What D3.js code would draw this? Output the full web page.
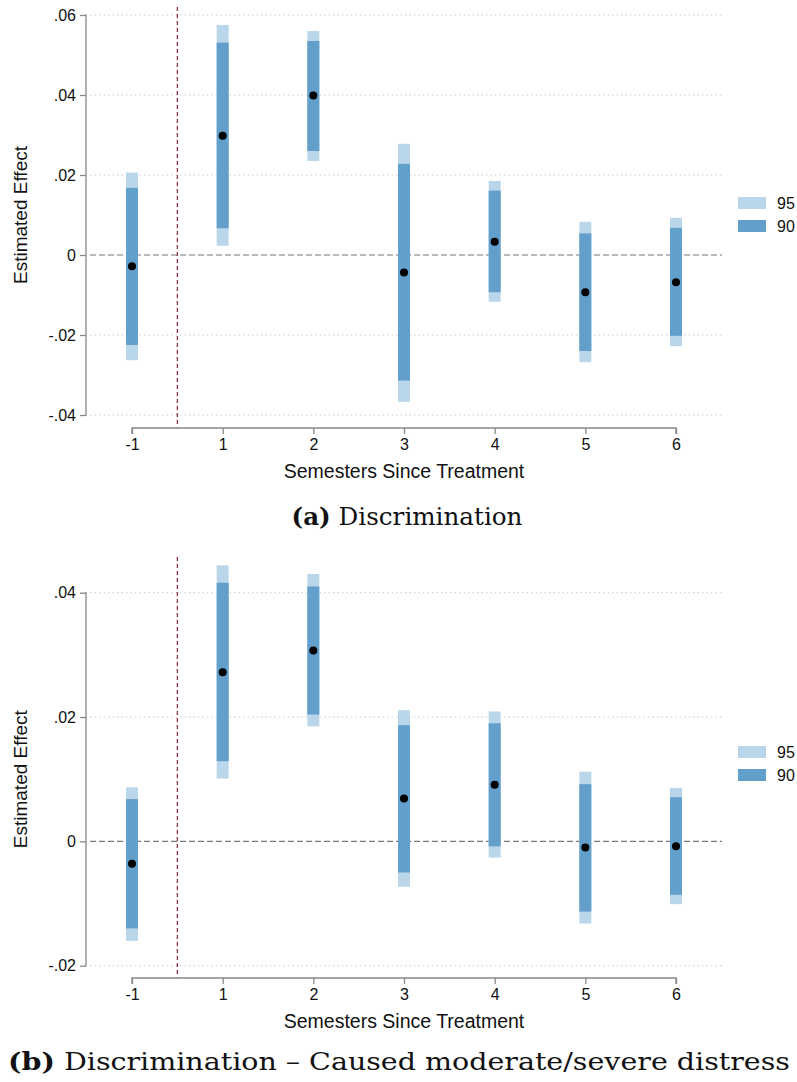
<!DOCTYPE html>
<html>
<head>
<meta charset="utf-8">
<script src="https://cdn.jsdelivr.net/npm/d3@7"></script>
<style>
  body { margin: 0; background: #fff; }
  svg { display: block; }
</style>
</head>
<body>
<div id="chart"></div>
<script>
// event-study estimates, semesters since treatment
var semesters = ["-1", "1", "2", "3", "4", "5", "6"];

// (a) Discrimination
var discPoint = [-0.0028, 0.0298, 0.0399, -0.0044, 0.0033, -0.0093, -0.0068];
var disc90Lo  = [-0.0225, 0.0067, 0.0260, -0.0314, -0.0093, -0.0240, -0.0202];
var disc90Hi  = [0.0168, 0.0531, 0.0535, 0.0228, 0.0161, 0.0054, 0.0068];
var disc95Lo  = [-0.0263, 0.0023, 0.0235, -0.0367, -0.0117, -0.0268, -0.0228];
var disc95Hi  = [0.0206, 0.0575, 0.0560, 0.0278, 0.0185, 0.0083, 0.0093];
var discTicks = [-0.04, -0.02, 0, 0.02, 0.04, 0.06];

// (b) Discrimination - caused moderate/severe distress
var distPoint = [-0.0036, 0.0272, 0.0307, 0.0069, 0.0091, -0.0010, -0.0008];
var dist90Lo  = [-0.0140, 0.0129, 0.0204, -0.0050, -0.0008, -0.0113, -0.0086];
var dist90Hi  = [0.0068, 0.0416, 0.0410, 0.0187, 0.0190, 0.0092, 0.0071];
var dist95Lo  = [-0.0160, 0.0101, 0.0185, -0.0073, -0.0026, -0.0132, -0.0101];
var dist95Hi  = [0.0087, 0.0444, 0.0430, 0.0211, 0.0209, 0.0112, 0.0086];
var distTicks = [-0.02, 0, 0.02, 0.04];

var legendLabels = ["95", "90"];
var c95 = "#bad6ea", c90 = "#629fcb";

var W = 797, H = 1082;
var sans = "Liberation Sans, Arial, sans-serif";
var svg = d3.select("#chart").append("svg").attr("width", W).attr("height", H);

var x = d3.scalePoint().domain(semesters).range([132, 676]);
var step = x.step();

// stata style labels: .02, -.04, 0
function fmt(d) {
    if (d === 0) return "0";
    return d3.format(".2f")(d).replace("\u2212", "-").replace("0.", ".");
}

function drawPanel(p) {
    var g = svg.append("g");
    var y = d3.scaleLinear().domain(p.domain).range(p.range);

    // grid lines (dotted)
    g.selectAll("line.grid").data(p.ticks.filter(function(t){ return t !== 0; }))
        .enter().append("line")
        .attr("x1", 90).attr("x2", 722)
        .attr("y1", function(d){ return y(d); }).attr("y2", function(d){ return y(d); })
        .style("stroke", "#cccccc").style("stroke-width", 1.1)
        .style("stroke-dasharray", "1.5,3");

    // zero reference
    g.append("line")
        .attr("x1", 90).attr("x2", 722)
        .attr("y1", y(0)).attr("y2", y(0))
        .style("stroke", "#777").style("stroke-width", 1.1)
        .style("stroke-dasharray", "6,3");

    // treatment line
    g.append("line")
        .attr("x1", x("-1") + step / 2).attr("x2", x("-1") + step / 2)
        .attr("y1", p.redTop).attr("y2", p.axisY)
        .style("stroke", "#8b2232").style("stroke-width", 1.2)
        .style("stroke-dasharray", "4,3");

    // y axis
    var yAxis = d3.axisLeft(y).tickValues(p.ticks).tickFormat(fmt).tickSize(6).tickPadding(4);
    var ya = g.append("g").attr("transform", "translate(86,0)").call(yAxis);
    ya.select(".domain").style("stroke", "#888").style("stroke-width", 1.3)
        .attr("d", "M-0.5," + y(p.domain[0]) + "H0V" + y(p.domain[1]) + "H-0.5");
    ya.selectAll(".tick line").style("stroke", "#888").style("stroke-width", 1.3);
    ya.selectAll(".tick text").style("font-family", sans)
        .style("font-size", "16px").style("fill", "#111");

    // x axis
    var xAxis = d3.axisBottom(x).tickSize(6).tickPadding(5);
    var xa = g.append("g").attr("transform", "translate(0," + p.axisY + ")").call(xAxis);
    xa.select(".domain").style("stroke", "#888").style("stroke-width", 1.3)
        .attr("d", "M" + x("-1") + ",6V0H" + x("6") + "V6");
    xa.selectAll(".tick line").style("stroke", "#888").style("stroke-width", 1.3);
    xa.selectAll(".tick text").style("font-family", sans)
        .style("font-size", "16px").style("fill", "#111");

    // 95% bars
    g.selectAll("rect.b95").data(semesters).enter().append("rect")
        .attr("x", function(d){ return x(d) - 6; })
        .attr("width", 12)
        .attr("y", function(d, i){ return y(p.hi95[i]); })
        .attr("height", function(d, i){ return y(p.lo95[i]) - y(p.hi95[i]); })
        .style("fill", c95);

    // 90% bars
    g.selectAll("rect.b90").data(semesters).enter().append("rect")
        .attr("x", function(d){ return x(d) - 6; })
        .attr("width", 12)
        .attr("y", function(d, i){ return y(p.hi90[i]); })
        .attr("height", function(d, i){ return y(p.lo90[i]) - y(p.hi90[i]); })
        .style("fill", c90);

    // point estimates
    g.selectAll("circle.pt").data(semesters).enter().append("circle")
        .attr("cx", function(d){ return x(d); })
        .attr("cy", function(d, i){ return y(p.point[i]); })
        .attr("r", 4)
        .style("fill", "#000");

    // axis titles
    var yMid = (p.range[0] + p.range[1]) / 2;
    g.append("text")
        .attr("transform", "translate(27," + yMid + ") rotate(-90)")
        .attr("text-anchor", "middle")
        .style("font-family", sans).style("font-size", "19px")
        .style("fill", "#111")
        .text("Estimated Effect");

    g.append("text")
        .attr("x", (x("-1") + x("6")) / 2).attr("y", p.axisY + 50)
        .attr("text-anchor", "middle")
        .style("font-family", sans).style("font-size", "19.5px")
        .style("fill", "#111")
        .text("Semesters Since Treatment");

    // legend
    var leg = g.selectAll("g.leg").data(legendLabels).enter().append("g")
        .attr("transform", function(d, i){ return "translate(738," + (p.legendY + i * 23) + ")"; });
    leg.append("rect").attr("width", 28).attr("height", 12)
        .style("fill", function(d, i){ return i === 0 ? c95 : c90; });
    leg.append("text").attr("x", 39).attr("y", 11.5)
        .style("font-family", sans).style("font-size", "16px")
        .style("fill", "#111")
        .text(function(d){ return d; });

    // caption
    var cap = g.append("text")
        .attr("x", p.capX).attr("y", p.capY)
        .attr("text-anchor", "middle")
        .attr("textLength", p.capWidth)
        .attr("lengthAdjust", "spacingAndGlyphs")
        .style("font-family", "DejaVu Serif, Liberation Serif, serif")
        .style("font-size", "23.5px").style("fill", "#111");
    cap.append("tspan").style("font-weight", "bold").text(p.capTag);
    cap.append("tspan").text(" " + p.capText);
}

drawPanel({
    domain: [-0.04, 0.06], range: [415, 15], ticks: discTicks,
    axisY: 428, redTop: 7, legendY: 197,
    point: discPoint, lo90: disc90Lo, hi90: disc90Hi, lo95: disc95Lo, hi95: disc95Hi,
    capX: 407, capY: 525, capWidth: 231, capTag: "(a)", capText: "Discrimination"
});

drawPanel({
    domain: [-0.02, 0.04], range: [965.7, 592.7], ticks: distTicks,
    axisY: 978, redTop: 557, legendY: 746,
    point: distPoint, lo90: dist90Lo, hi90: dist90Hi, lo95: dist95Lo, hi95: dist95Hi,
    capX: 399, capY: 1070, capWidth: 782, capTag: "(b)", capText: "Discrimination \u2013 Caused moderate/severe distress"
});
</script>
</body>
</html>
